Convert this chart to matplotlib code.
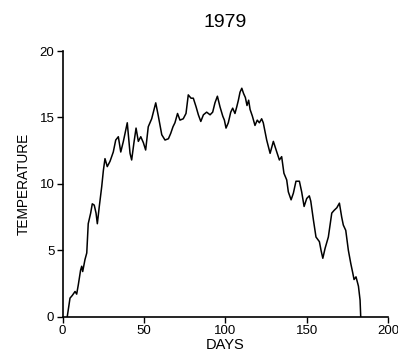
import matplotlib
matplotlib.use('Agg')
import matplotlib.pyplot as plt
import numpy as np

# daily temperature trace
days = [2.8, 4.5, 5.9, 7.6, 8.6, 9.6, 11.0, 11.7, 12.3, 13.7, 14.8, 15.7, 17.2, 18.2,
        19.4, 20.5, 21.3, 22.5, 24.0, 25.0, 26.0, 27.4, 29.1, 31.1, 32.6, 34.2, 35.7,
        37.3, 39.7, 41.4, 42.4, 43.8, 45.1, 46.5, 48.0, 49.6, 51.0, 52.6, 54.7, 57.2,
        58.8, 60.9, 62.9, 65.0, 66.4, 67.8, 69.0, 70.6, 72.1, 74.1, 75.8, 77.2, 78.9,
        80.3, 82.0, 83.4, 84.9, 86.5, 88.5, 90.6, 92.2, 93.6, 95.1, 96.7, 98.4, 99.4,
        100.4, 101.8, 103.3, 104.5, 105.9, 107.0, 108.0, 109.0, 110.1, 111.2, 112.3,
        113.3, 114.3, 115.2, 116.6, 118.2, 119.6, 120.9, 122.3, 123.3, 125.4, 127.5,
        129.5, 131.6, 133.2, 134.6, 136.0, 137.7, 138.7, 140.4, 141.8, 143.4, 145.5,
        146.9, 148.4, 150.0, 151.6, 152.5, 154.1, 155.7, 157.8, 158.8, 159.9, 161.3,
        163.3, 165.4, 166.8, 168.5, 170.1, 171.5, 172.5, 174.0, 175.6, 177.1, 178.3,
        179.1, 180.3, 181.8, 182.8, 183.2]
temps = [0.0, 1.4, 1.6, 1.9, 1.7, 2.4, 3.5, 3.8, 3.4, 4.3, 4.8, 7.0, 7.8, 8.5,
         8.4, 7.8, 7.0, 8.3, 9.8, 11.0, 11.9, 11.3, 11.7, 12.4, 13.3, 13.55, 12.4,
         13.2, 14.6, 12.3, 11.8, 13.1, 14.2, 13.2, 13.55, 13.1, 12.55, 14.3, 14.9, 16.1,
         15.1, 13.7, 13.3, 13.4, 13.8, 14.3, 14.6, 15.3, 14.8, 14.9, 15.3, 16.7, 16.45,
         16.45, 15.8, 15.2, 14.7, 15.2, 15.4, 15.2, 15.4, 16.1, 16.6, 15.8, 15.1, 14.8,
         14.2, 14.6, 15.4, 15.7, 15.3, 15.8, 16.3, 16.9, 17.2, 16.8, 16.5,
         15.9, 16.3, 15.6, 15.1, 14.4, 14.8, 14.6, 14.9, 14.6, 13.3, 12.3,
         13.2, 12.4, 11.8, 12.05, 10.8, 10.3, 9.4, 8.8, 9.3, 10.2, 10.2,
         9.4, 8.3, 8.9, 9.1, 8.7, 7.3, 6.0, 5.65, 5.0, 4.4, 5.15,
         6.0, 7.8, 8.0, 8.2, 8.55, 7.5, 6.9, 6.5, 5.0, 4.0, 3.3,
         2.8, 3.0, 2.3, 1.25, 0.0]

xticks = [0, 50, 100, 150, 200]
yticks = [0, 5, 10, 15, 20]

plt.rcParams['font.family'] = ['Liberation Sans', 'DejaVu Sans']

fig = plt.figure(figsize=(3.98, 3.59), dpi=100)
ax = fig.add_axes([0.1575, 0.1178, 0.8175, 0.740])

ax.plot(days, temps, color='k', linewidth=1.1)

ax.set_xlim(0, 200)
ax.set_ylim(0, 20)
ax.set_xticks(xticks)
ax.set_yticks(yticks)
ax.tick_params(direction='out', length=4, width=1.0, labelsize=9.5, pad=2)

for s in ['top', 'right']:
    ax.spines[s].set_visible(False)
for s in ['left', 'bottom']:
    ax.spines[s].set_linewidth(1.2)

ax.set_xlabel('DAYS', fontsize=10.5, labelpad=1)
ax.set_ylabel('TEMPERATURE', fontsize=9.8, labelpad=6)
ax.set_title('1979', fontsize=14, pad=17)

fig.savefig('out.png', dpi=100)
